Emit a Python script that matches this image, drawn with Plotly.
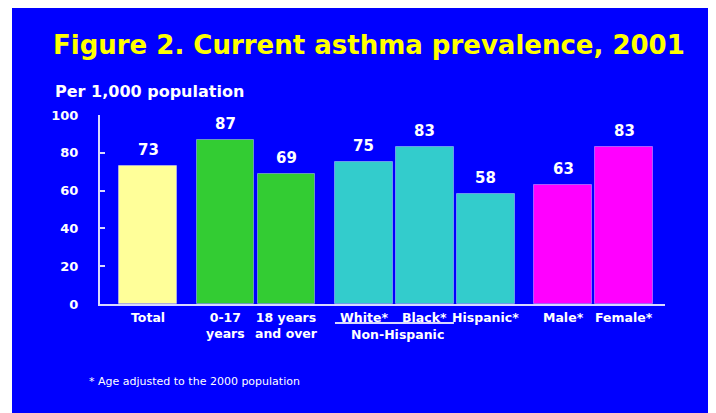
import plotly.graph_objects as go

# ---- data ----
categories = ["Total", "0-17<br>years", "18 years<br>and over", "White*", "Black*",
              "Hispanic*", "Male*", "Female*"]
groups = ["Total", "Age", "Age", "Race", "Race", "Race", "Sex", "Sex"]
values = [73, 87, 69, 75, 83, 58, 63, 83]
group_colors = {"Total": "#FFFF99", "Age": "#33CC33", "Race": "#33CCCC", "Sex": "#FF00FF"}
y_ticks = [0, 20, 40, 60, 80, 100]
title_text = "Figure 2. Current asthma prevalence, 2001"
y_title = "Per 1,000 population"
bracket_label = "Non-Hispanic"
bracket_members = ["White*", "Black*"]
footnote = "* Age adjusted to the 2000 population"

# ---- layout helpers (figure pixel coords; page adds an 8px body margin) ----
W, H = 716, 413
OFF = 8
X_LEFT, X_RIGHT = 100 - OFF, 665 - OFF     # plot area in figure px
Y_TOP, Y_BOT = 115 - OFF, 304 - OFF
L, R, T, B = X_LEFT, W - X_RIGHT, Y_TOP, H - Y_BOT
pw, ph = W - L - R, H - T - B
PX_PER_UNIT = 61.0
FIRST_BAR_PX = 148 - OFF
GROUP_GAP = 1.27
BAR_W = 0.95
FONT = "DejaVu Sans"
BLUE = "#0000FF"
AXIS = "#D8D8FF"
CAT_SIZE = 12.5
LINE_H = CAT_SIZE * 1.3

positions = []
p = 0.0
for i, g in enumerate(groups):
    if i > 0:
        p += GROUP_GAP if g != groups[i - 1] else 1.0
    positions.append(p)

colors = [group_colors[g] for g in groups]

fig = go.Figure()
fig.add_trace(go.Bar(
    x=positions, y=values, width=BAR_W,
    marker=dict(color=colors, line=dict(color="rgba(255,255,255,0.35)", width=1)),
    hoverinfo="skip", showlegend=False,
))

annotations = []
# value labels
for x, v in zip(positions, values):
    annotations.append(dict(x=x, y=v, xref="x", yref="y", text=f"<b>{v}</b>",
                            showarrow=False, yanchor="middle", yshift=16,
                            font=dict(family=FONT, size=15, color="white")))
# category labels
for x, lab in zip(positions, categories):
    n = len(lab.split("<br>"))
    annotations.append(dict(x=x, y=0, xref="x", yref="paper", text=f"<b>{lab}</b>",
                            showarrow=False, yanchor="middle",
                            yshift=-13 - (n - 1) * LINE_H / 2,
                            font=dict(family=FONT, size=CAT_SIZE, color="white")))
# bracket label
bx = [positions[categories.index(c)] for c in bracket_members]
annotations.append(dict(x=sum(bx) / len(bx) + 0.05, y=0, xref="x", yref="paper",
                        text=f"<b>{bracket_label}</b>", showarrow=False, yanchor="middle",
                        yshift=-30, font=dict(family=FONT, size=CAT_SIZE, color="white")))
# y title
annotations.append(dict(x=(53 - OFF - L) / pw, y=1, xref="paper", yref="paper",
                        text=f"<b>{y_title}</b>", showarrow=False, xanchor="left",
                        yanchor="middle", yshift=24,
                        font=dict(family=FONT, size=16, color="white")))
# footnote
annotations.append(dict(x=(87 - OFF - L) / pw, y=0, xref="paper", yref="paper",
                        text=footnote, showarrow=False, xanchor="left",
                        yanchor="middle", yshift=-77,
                        font=dict(family=FONT, size=11, color="white")))

shapes = [
    dict(type="rect", xref="paper", yref="paper", layer="below",
         x0=(12 - OFF - L) / pw, x1=(W + 20 - L) / pw, y0=-(B + 20) / ph, y1=(H - B) / ph,
         fillcolor=BLUE, line=dict(width=0)),
    dict(type="line", xref="x", yref="paper",
         x0=min(bx) - BAR_W / 2, x1=max(bx) + BAR_W / 2, y0=-19 / ph, y1=-19 / ph,
         line=dict(color=AXIS, width=2)),
]

fig.update_layout(
    width=W, height=H,
    margin=dict(l=L, r=R, t=T, b=B, pad=0),
    paper_bgcolor="white", plot_bgcolor="rgba(0,0,0,0)",
    title=dict(text=f"<b>{title_text}</b>", xref="container", yref="container",
               x=(53 - OFF) / W, xanchor="left", y=1 - (45 - OFF) / H, yanchor="middle",
               font=dict(family=FONT, size=26, color="#FFFF00")),
    xaxis=dict(range=[(X_LEFT - FIRST_BAR_PX) / PX_PER_UNIT,
                      (X_RIGHT - FIRST_BAR_PX) / PX_PER_UNIT],
               showgrid=False, zeroline=False, showticklabels=False, ticks="",
               showline=True, linecolor=AXIS, linewidth=2, fixedrange=True),
    yaxis=dict(range=[0, 100], tickvals=y_ticks, ticktext=[f"<b>{t}</b>" for t in y_ticks],
               showgrid=False, zeroline=False, ticks="inside", ticklen=5,
               tickwidth=2, tickcolor=AXIS, showline=True, linecolor=AXIS,
               linewidth=2, ticklabelstandoff=17,
               tickfont=dict(family=FONT, size=13, color="white"), fixedrange=True),
    annotations=annotations, shapes=shapes,
    bargap=0,
)

fig.write_html("out.html")
